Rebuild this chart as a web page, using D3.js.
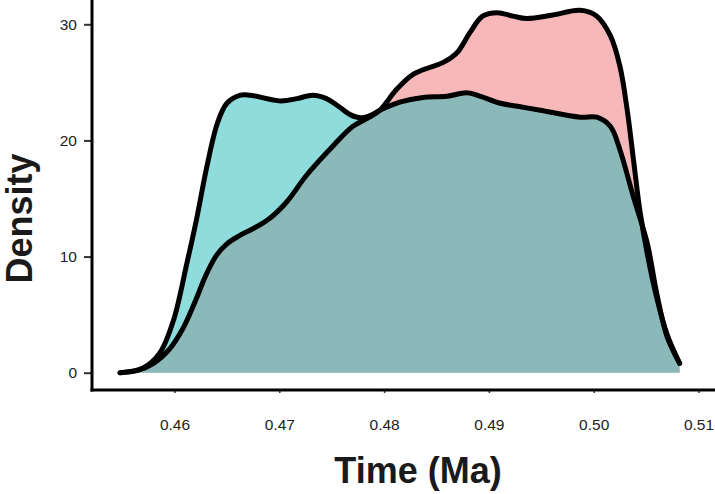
<!DOCTYPE html>
<html>
<head>
<meta charset="utf-8">
<script src="https://cdn.jsdelivr.net/npm/d3@7"></script>
<style>
  html, body { margin: 0; padding: 0; background: #fff; }
  svg { display: block; font-family: "Liberation Sans", Arial, sans-serif; }
</style>
</head>
<body>
<svg id="chart" width="715" height="494"></svg>
<script>
// ---- data ----
const groupNames = ["A", "B"];
const pinkX = [0.4548,0.4565,0.4580,0.4595,0.4608,0.4620,0.4630,0.4640,0.4650,0.4662,0.4677,0.4691,0.4707,0.4726,0.4751,0.4770,0.4786,0.4796,0.4812,0.4828,0.4844,0.4856,0.4870,0.4882,0.4894,0.4908,0.4923,0.4936,0.4961,0.4987,0.5003,0.5016,0.5025,0.5032,0.5038,0.5044,0.5051,0.5060,0.5070,0.5082];
const pinkY = [0.0,0.2,0.8,2.0,3.8,6.2,8.4,10.1,11.1,11.8,12.5,13.3,14.7,17.0,19.5,21.2,22.0,22.6,24.4,25.7,26.3,26.7,27.6,29.3,30.7,31.0,30.7,30.5,30.8,31.2,30.7,29.0,26.4,22.6,18.3,14.0,10.3,6.5,3.3,0.8];
const cyanX = [0.4548,0.4570,0.4586,0.4599,0.4612,0.4621,0.4631,0.4641,0.4650,0.4663,0.4672,0.4701,0.4717,0.4732,0.4745,0.4757,0.4768,0.4778,0.4788,0.4796,0.4815,0.4837,0.4860,0.4879,0.4892,0.4911,0.4930,0.4949,0.4987,0.5003,0.5016,0.5025,0.5038,0.5051,0.5060,0.5070,0.5082];
const cyanY = [0.0,0.4,1.7,4.5,9.5,13.2,17.8,21.5,23.2,23.9,23.9,23.4,23.6,23.9,23.6,22.9,22.2,21.95,22.2,22.6,23.3,23.7,23.8,24.1,23.8,23.2,22.9,22.6,22.0,22.0,21.2,19.2,15.1,11.2,6.9,3.1,0.8];
const xTicks = [0.46, 0.47, 0.48, 0.49, 0.50, 0.51];
const xTickLabels = ["0.46", "0.47", "0.48", "0.49", "0.50", "0.51"];
const yTicks = [0, 10, 20, 30];

// ---- layout ----
const svg = d3.select("#chart");
const x = d3.scaleLinear().domain([0.46, 0.51]).range([174.5, 698.5]);
const y = d3.scaleLinear().domain([0, 30]).range([372.7, 24.3]);
const axisX = 92, axisY = 390;

const series = [
  { name: groupNames[0], xs: pinkX, ys: pinkY, fill: "rgb(237,113,113)" },
  { name: groupNames[1], xs: cyanX, ys: cyanY, fill: "rgb(31,185,185)" }
].map(s => ({ ...s, pts: s.xs.map((v, i) => [v, s.ys[i]]) }));

const curve = d3.curveCatmullRom.alpha(0.5);
const area = d3.area().x(d => x(d[0])).y0(y(0)).y1(d => y(d[1])).curve(curve);
const line = d3.line().x(d => x(d[0])).y(d => y(d[1])).curve(curve);

const g = svg.append("g");
series.forEach(s => {
  g.append("path").attr("d", area(s.pts))
    .attr("fill", s.fill).attr("fill-opacity", 0.5).attr("stroke", "none");
});
series.forEach(s => {
  g.append("path").attr("d", line(s.pts))
    .attr("fill", "none").attr("stroke", "#000")
    .attr("stroke-width", 5).attr("stroke-linecap", "round").attr("stroke-linejoin", "round");
});

// ---- axes ----
const yAxis = d3.axisLeft(y).tickValues(yTicks).tickSize(8).tickPadding(7).tickFormat(d3.format("d"));
const yg = svg.append("g").attr("transform", `translate(${axisX},0)`).call(yAxis);
yg.select(".domain").remove();
yg.selectAll(".tick line").attr("stroke", "#333").attr("stroke-width", 2);
yg.selectAll(".tick text").attr("font-size", 15.5).attr("fill", "#222")
  .attr("font-family", "Liberation Sans, Arial, sans-serif");

const xAxis = d3.axisBottom(x).tickValues(xTicks).tickSize(3).tickPadding(26)
  .tickFormat((d, i) => xTickLabels[i]);
const xg = svg.append("g").attr("transform", `translate(0,${axisY})`).call(xAxis);
xg.select(".domain").remove();
xg.selectAll(".tick line").attr("stroke", "#333").attr("stroke-width", 1.5);
xg.selectAll(".tick text").attr("font-size", 15.5).attr("fill", "#222")
  .attr("font-family", "Liberation Sans, Arial, sans-serif");

svg.append("line").attr("x1", axisX).attr("x2", axisX).attr("y1", 0).attr("y2", axisY + 1.5)
  .attr("stroke", "#000").attr("stroke-width", 3);
svg.append("line").attr("x1", axisX - 1.5).attr("x2", 715).attr("y1", axisY).attr("y2", axisY)
  .attr("stroke", "#000").attr("stroke-width", 3);

// ---- titles ----
svg.append("text").attr("x", 418).attr("y", 483).attr("text-anchor", "middle")
  .attr("font-size", 36).attr("font-weight", "bold").attr("fill", "#1a1a1a").text("Time (Ma)");
svg.append("text").attr("transform", "translate(32,218.5) rotate(-90)").attr("text-anchor", "middle")
  .attr("font-size", 36).attr("font-weight", "bold").attr("fill", "#1a1a1a").text("Density");
</script>
</body>
</html>
